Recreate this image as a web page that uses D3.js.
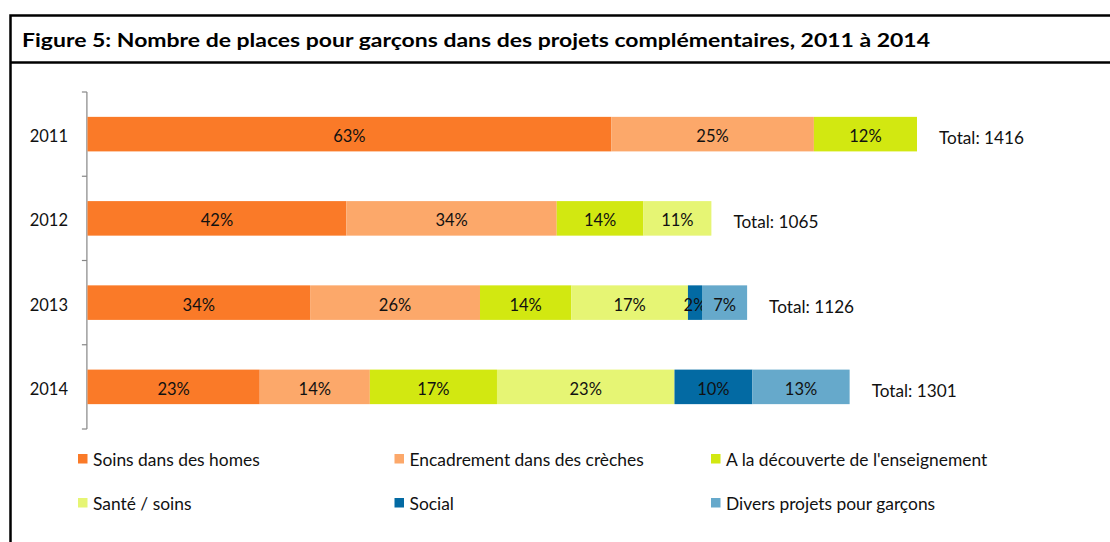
<!DOCTYPE html>
<meta charset="utf-8">
<style>
body {
  margin: 0;
  background: #fff;
}
svg {
  display: block;
  font-family: Lato, "Open Sans", sans-serif;
}
.frame {
  fill: none;
  stroke: #000;
  stroke-width: 2.5px;
}
.title {
  font-size: 19px;
  font-weight: bold;
  fill: #000;
}
.axis line {
  stroke: #868686;
  stroke-width: 1.2px;
}
.year, .pct, .total, .legend text {
  fill: #111;
}
.year {
  font-size: 16.5px;
}
.pct {
  font-size: 16.5px;
}
.total {
  font-size: 17.2px;
}
.legend text {
  font-size: 17.4px;
}
</style>
<body>
<script src="https://d3js.org/d3.v7.min.js"></script>
<script>
var width = 1110,
    height = 542;

// data
var years = ["2011", "2012", "2013", "2014"];
var categories = ["Soins dans des homes", "Encadrement dans des crèches", "A la découverte de l'enseignement",
                  "Santé / soins", "Social", "Divers projets pour garçons"];
var totals = [1416, 1065, 1126, 1301];

// places per category, per year
var soins = [894, 442, 380, 294];
var encadrement = [346, 359, 290, 188];
var decouverte = [176, 148, 156, 217];
var sante = [0, 116, 199, 303];
var social = [0, 0, 24, 133];
var divers = [0, 0, 77, 166];

// percentages as printed on the bars
var soinsPct = [63, 42, 34, 23];
var encadrementPct = [25, 34, 26, 14];
var decouvertePct = [12, 14, 14, 17];
var santePct = [null, 11, 17, 23];
var socialPct = [null, null, 2, 10];
var diversPct = [null, null, 7, 13];

var colors = ["#fa7a28", "#fca86a", "#d2e811", "#e6f574", "#036aa3", "#66a9cb"];

var series = [soins, encadrement, decouverte, sante, social, divers];
var pcts = [soinsPct, encadrementPct, decouvertePct, santePct, socialPct, diversPct];

var rows = years.map(function(y, i) {
  var r = {year: y, total: totals[i]};
  categories.forEach(function(c, j) { r[c] = series[j][i]; });
  return r;
});

var stacked = d3.stack().keys(categories)(rows);

var svg = d3.select("body").append("svg")
  .attr("width", width)
  .attr("height", height);

// frame + title row
svg.append("rect")
  .attr("class", "frame")
  .attr("x", 10.5).attr("y", 15.5)
  .attr("width", 1110).attr("height", 540);
svg.append("line")
  .attr("x1", 10).attr("x2", width)
  .attr("y1", 62.5).attr("y2", 62.5)
  .attr("stroke", "#000").attr("stroke-width", 2.5);
svg.append("text")
  .attr("class", "title")
  .attr("x", 22).attr("y", 47)
  .attr("textLength", 908)
  .attr("lengthAdjust", "spacingAndGlyphs")
  .text("Figure 5: Nombre de places pour garçons dans des projets complémentaires, 2011 à 2014");

var x = d3.scaleLinear()
  .domain([0, d3.max(totals)])
  .range([87.5, 917]);

var y = d3.scaleBand()
  .domain(years)
  .range([92, 429])
  .paddingInner(0.59)
  .paddingOuter(0.295);

// category axis with ticks between bars
var axis = svg.append("g").attr("class", "axis");
axis.append("line")
  .attr("x1", x(0) - 0.6).attr("x2", x(0) - 0.6)
  .attr("y1", y.range()[0]).attr("y2", y.range()[1]);
axis.selectAll(".tick")
  .data(d3.range(years.length + 1))
  .enter().append("line")
    .attr("x1", x(0) - 5.6).attr("x2", x(0) - 0.6)
    .attr("y1", function(i) { return y.range()[0] + i * y.step(); })
    .attr("y2", function(i) { return y.range()[0] + i * y.step(); });

svg.selectAll(".year")
  .data(years)
  .enter().append("text")
    .attr("class", "year")
    .attr("x", 68)
    .attr("y", function(d) { return y(d) + y.bandwidth() / 2 + 8; })
    .attr("text-anchor", "end")
    .text(function(d) { return d; });

var layer = svg.selectAll(".layer")
  .data(stacked)
  .enter().append("g")
    .attr("class", "layer")
    .attr("fill", function(d, i) { return colors[i]; });

layer.selectAll("rect")
  .data(function(d) { return d; })
  .enter().append("rect")
    .attr("x", function(d) { return x(d[0]); })
    .attr("y", function(d) { return y(d.data.year); })
    .attr("width", function(d) { return x(d[1]) - x(d[0]); })
    .attr("height", y.bandwidth());

layer.selectAll(".pct")
  .data(function(d, j) {
    return d.map(function(s, i) { return {s: s, pct: pcts[j][i]}; })
      .filter(function(e) { return e.pct != null; });
  })
  .enter().append("text")
    .attr("class", "pct")
    .attr("x", function(e) { return (x(e.s[0]) + x(e.s[1])) / 2; })
    .attr("y", function(e) { return y(e.s.data.year) + y.bandwidth() / 2 + 8; })
    .attr("text-anchor", "middle")
    .text(function(e) { return e.pct + "%"; });

svg.selectAll(".total")
  .data(rows)
  .enter().append("text")
    .attr("class", "total")
    .attr("x", function(d) { return x(d.total) + 22; })
    .attr("y", function(d) { return y(d.year) + y.bandwidth() / 2 + 10; })
    .text(function(d) { return "Total: " + d.total; });

// legend, 3 columns x 2 rows
var legend = svg.append("g").attr("class", "legend");
var item = legend.selectAll("g")
  .data(categories)
  .enter().append("g")
    .attr("transform", function(d, i) {
      return "translate(" + (78 + (i % 3) * 316.5) + "," + (454 + Math.floor(i / 3) * 44) + ")";
    });
item.append("rect")
  .attr("width", 9.5).attr("height", 9.5)
  .attr("fill", function(d, i) { return colors[i]; });
item.append("text")
  .attr("x", 15).attr("y", 11.5)
  .text(function(d) { return d; });
</script>
